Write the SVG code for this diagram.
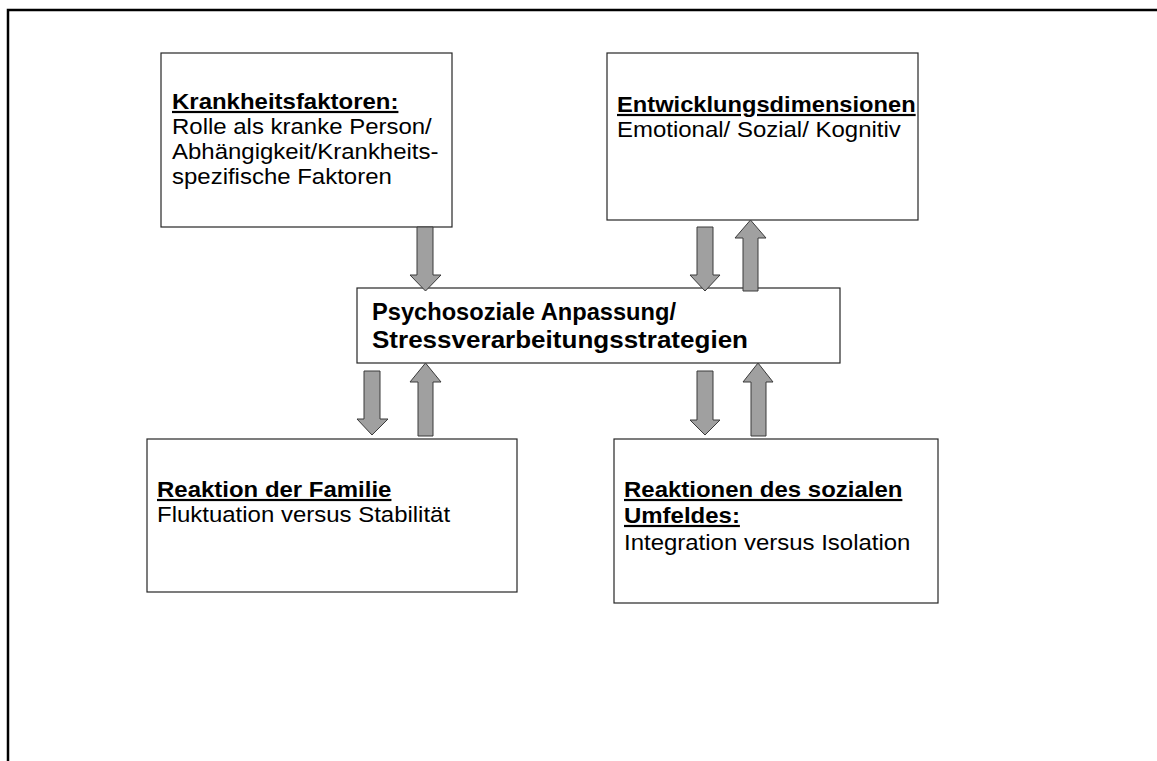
<svg xmlns="http://www.w3.org/2000/svg" width="1157" height="761" viewBox="0 0 1157 761">
<style>
.box{fill:#fff;stroke:#262626;stroke-width:1.2}
.t{font-family:"Liberation Sans",Arial,sans-serif;font-size:22px;fill:#000}
.b{font-weight:bold;text-decoration:underline}
.m{font-family:"Liberation Sans",Arial,sans-serif;font-size:24px;font-weight:bold;fill:#000}
.arr{fill:#a0a0a0;stroke:#3a3a3a;stroke-width:1}
.frame{stroke:#000;stroke-width:2.5;fill:none}
</style>
<rect width="1157" height="761" fill="#fff"/>
<path class="frame" d="M8 761 V10 H1157"/>
<g id="krankheitsfaktoren">
<rect class="box" x="161" y="53" width="291" height="174"/>
<g transform="translate(172 0) scale(1.09 1)">
<text class="t b" x="0" y="109">Krankheitsfaktoren:</text>
<text class="t" x="0" y="134">Rolle als kranke Person/</text>
<text class="t" x="0" y="159">Abhängigkeit/Krankheits-</text>
<text class="t" x="0" y="184">spezifische Faktoren</text>
</g>
</g>
<g id="entwicklungsdimensionen">
<rect class="box" x="607" y="53" width="311" height="167"/>
<g transform="translate(617 0) scale(1.09 1)">
<text class="t b" x="0" y="112" textLength="274" lengthAdjust="spacingAndGlyphs">Entwicklungsdimensionen</text>
<text class="t" x="0" y="137">Emotional/ Sozial/ Kognitiv</text>
</g>
</g>
<g id="psychosoziale">
<rect class="box" x="357" y="288" width="483" height="75"/>
<text class="m" x="372" y="320" textLength="304" lengthAdjust="spacingAndGlyphs">Psychosoziale Anpassung/</text>
<text class="m" x="372" y="348" textLength="376" lengthAdjust="spacingAndGlyphs">Stressverarbeitungsstrategien</text>
</g>
<g id="familie">
<rect class="box" x="147" y="439" width="370" height="153"/>
<g transform="translate(157 0) scale(1.09 1)">
<text class="t b" x="0" y="497">Reaktion der Familie</text>
<text class="t" x="0" y="522">Fluktuation versus Stabilität</text>
</g>
</g>
<g id="umfeld">
<rect class="box" x="614" y="439" width="324" height="164"/>
<g transform="translate(624 0) scale(1.09 1)">
<text class="t b" x="0" y="497">Reaktionen des sozialen</text>
<text class="t b" x="0" y="523">Umfeldes:</text>
<text class="t" x="0" y="550">Integration versus Isolation</text>
</g>
</g>
<g id="connectors">
<polygon class="arr" points="417,227 433,227 433,275 441,275 425.5,291 410,275 417,275"/>
<polygon class="arr" points="697,227 713,227 713,275 720,275 705,291 690,275 697,275"/>
<polygon class="arr" points="743,291 758,291 758,238 766,238 750.5,220 735,238 743,238"/>
<polygon class="arr" points="364,371 380,371 380,419 388,419 372,435 357,419 364,419"/>
<polygon class="arr" points="418,436 433,436 433,382 441,382 425.5,363 410,382 418,382"/>
<polygon class="arr" points="697,371 713,371 713,420 720,420 705,435 690,420 697,420"/>
<polygon class="arr" points="751,436 766,436 766,382 773,382 758,363 743,382 751,382"/>
</g>
</svg>
